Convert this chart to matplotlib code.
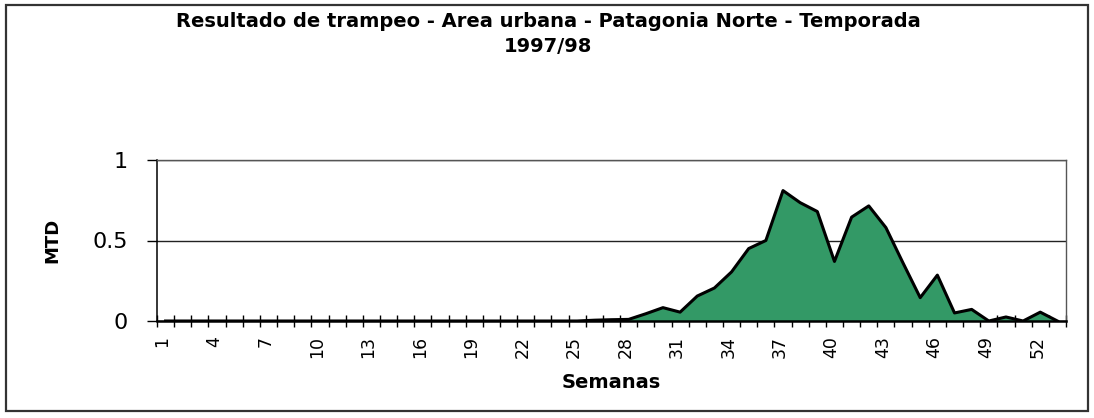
import numpy as np
import matplotlib.pyplot as plt
from matplotlib.patches import Rectangle
from matplotlib.transforms import ScaledTranslation

# weekly trapping result (MTD), season 1997/98
weeks = list(range(1, 54))
mtd = [0, 0, 0, 0, 0, 0, 0, 0, 0, 0,
       0, 0, 0, 0, 0, 0, 0, 0, 0, 0,
       0, 0, 0, 0, 0, 0.005, 0.008, 0.01, 0.045, 0.083,
       0.055, 0.155, 0.205, 0.305, 0.45, 0.5, 0.81, 0.735, 0.68, 0.37,
       0.645, 0.715, 0.58, 0.36, 0.145, 0.285, 0.05, 0.072, 0.0, 0.025,
       0.0, 0.055, 0.0]
week_labels = [1, 4, 7, 10, 13, 16, 19, 22, 25, 28, 31, 34, 37, 40, 43, 46, 49, 52]
y_ticks = [0, 0.5, 1]
y_ticklabels = ["0", "0.5", "1"]

title = "Resultado de trampeo - Area urbana - Patagonia Norte - Temporada\n1997/98"

W, H = 1094, 418
fig = plt.figure(figsize=(W / 100, H / 100), dpi=100)

# outer chart border
fig.patches.append(Rectangle((6 / W, 7 / H), 1082 / W, 406 / H, transform=fig.transFigure,
                             fill=False, edgecolor="#333333", lw=1.6))

ax = fig.add_axes([157 / W, 97 / H, 909 / W, 161 / H])
ax.fill_between(weeks, mtd, color="#339966", lw=0, zorder=2)
ax.plot(weeks, mtd, color="black", lw=2.2, zorder=3)

ax.set_xlim(0.5, 53.5)
ax.set_ylim(0, 1)
ax.set_axisbelow(True)
ax.grid(axis="y", color="#222222", lw=1)

ax.set_yticks(y_ticks)
ax.set_yticklabels(y_ticklabels)
ax.tick_params(axis="y", direction="out", length=7, width=1, pad=14, labelsize=16)

ax.set_xticks(week_labels)
ax.set_xticklabels([str(w) for w in week_labels], rotation=90)
ax.set_xticks(np.arange(0.5, 54, 1), minor=True)
ax.tick_params(axis="x", which="major", length=0, pad=11, labelsize=12.5)
ax.tick_params(axis="x", which="minor", direction="inout", length=8.6, width=1)
shift = ScaledTranslation(-3 / 100, 0, fig.dpi_scale_trans)
for lab in ax.get_xticklabels():
    lab.set_transform(lab.get_transform() + shift)

for s in ["top", "right"]:
    ax.spines[s].set_color("#555555")
    ax.spines[s].set_linewidth(1)
ax.spines["left"].set_linewidth(1.1)
ax.spines["bottom"].set_linewidth(1.8)

ax.set_ylabel("MTD", fontsize=13, fontweight="bold", va="center")
ax.yaxis.set_label_coords(-0.1155, 0.5)
ax.set_xlabel("Semanas", fontsize=14, fontweight="bold", va="center")
ax.xaxis.set_label_coords(0.5, -0.379)

fig.text(548 / W, 1 - 34 / H, title, ha="center", va="center", fontsize=14,
         fontweight="bold", linespacing=1.35)

fig.savefig("out.png", dpi=100)
